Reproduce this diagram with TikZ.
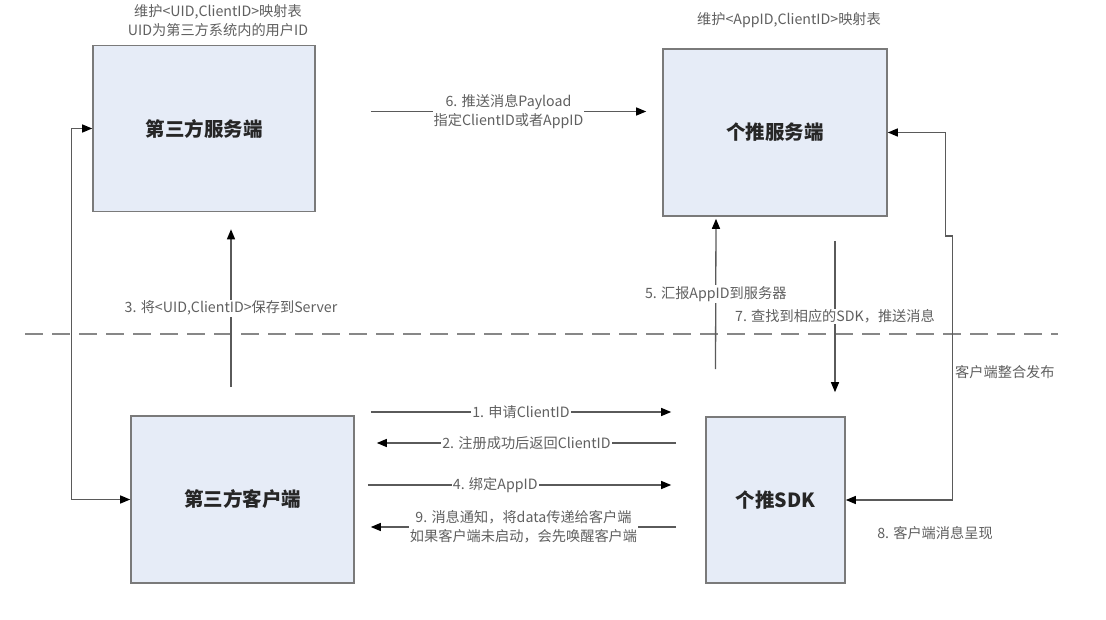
\documentclass[tikz,border=0pt]{standalone}
\usepackage{fontspec}
\setmainfont{Noto Sans CJK SC}
\usetikzlibrary{arrows.meta,calc}

\definecolor{boxfill}{HTML}{E6ECF7}
\definecolor{boxline}{HTML}{7A7A7A}
\definecolor{linegray}{HTML}{5A5A5A}
\definecolor{textgray}{HTML}{606060}

\tikzset{
  box/.style={draw=boxline,line width=1.6pt,fill=boxfill,font=\fontsize{19.5}{22}\selectfont\bfseries,text=black!85},
  arr/.style={draw=linegray,line width=1.3pt,-{Triangle[length=10pt,width=8pt,color=black]}},
  darr/.style={draw=linegray,line width=1.3pt,{Triangle[length=10pt,width=8pt,color=black]}-{Triangle[length=10pt,width=8pt,color=black]}},
  lbl/.style={font=\fontsize{14.2}{19}\selectfont,text=textgray,align=center},
  onlbl/.style={lbl,fill=white,inner sep=1pt},
}

\begin{document}
\begin{tikzpicture}[x=1pt,y=-1pt]
  \useasboundingbox[fill=white] (0,0) rectangle (1106,620);

  % boxes
  \node[box,minimum width=222,minimum height=166] (srvThird) at (204,128.5) {第三方服务端};
  \node[box,minimum width=224,minimum height=167] (srvPush) at (775,132.5) {个推服务端};
  \node[box,minimum width=223,minimum height=167] (cliThird) at (242.5,499.5) {第三方客户端};
  \node[box,minimum width=139,minimum height=166] (sdkPush) at (775.5,500) {个推SDK};

  \node[lbl] (noteThird) at (218,21) {维护<UID,ClientID>映射表\\UID为第三方系统内的用户ID};
  \node[lbl] (notePush) at (789,20) {维护<AppID,ClientID>映射表};

  % separator
  \coordinate (sepL) at (25,334);
  \coordinate (sepR) at (1058,334);
  \draw[boxline!90,line width=1.5pt,dash pattern=on 18pt off 9pt] (sepL) -- (sepR);

  % loops
  \draw[darr] (srvThird.west) -- ++(-21,0) |- (cliThird.west);
  \draw[darr] (srvPush.east) -- ++(58,0) -- ++(0,103.5) -- ++(7,0) |- (sdkPush.east);
  \node[lbl,anchor=west,inner sep=1pt] (lblPub) at (954,372) {客户端整合发布};
  \node[lbl] (lblShow) at (935,533) {8. 客户端消息呈现};

  % vertical arrows
  \draw[arr] ($(cliThird.north)+(-11.5,-28)$) -- ($(srvThird.south)+(27,17)$)
    node[onlbl,midway] (lblSave) {3. 将<UID,ClientID>保存到Server};
  \draw[arr] ($(sdkPush.north)+(-60,-47)$) -- ($(srvPush.south)+(-59,2)$)
    node[onlbl,midway] (lblReport) {5. 汇报AppID到服务器};
  \draw[arr] ($(srvPush.south)+(60,24)$) -- ($(sdkPush.north)+(59.5,-24)$)
    node[onlbl,midway] (lblFind) {7. 查找到相应的SDK，推送消息};

  % horizontal arrows
  \draw[arr] ($(srvThird.east)+(55,-17)$) -- ($(srvPush.west)+(-16,-21)$)
    node[onlbl,midway] (lblPush) {6. 推送消息Payload\\指定ClientID或者AppID};
  \draw[arr] ($(cliThird.east)+(16,-87.5)$) -- ($(sdkPush.west)+(-34,-88)$)
    node[onlbl,midway] (lblApply) {1. 申请ClientID};
  \draw[arr] ($(sdkPush.west)+(-29,-57)$) -- ($(cliThird.east)+(22,-56.5)$)
    node[onlbl,midway] (lblBack) {2. 注册成功后返回ClientID};
  \draw[arr] ($(cliThird.east)+(13,-14.5)$) -- ($(sdkPush.west)+(-34,-15)$)
    node[onlbl,pos=0.42] (lblBind) {4. 绑定AppID};
  \draw[arr] ($(sdkPush.west)+(-29,27)$) -- ($(cliThird.east)+(16,27.5)$)
    node[onlbl,midway] (lblNotify) {9. 消息通知，将data传递给客户端\\如果客户端未启动，会先唤醒客户端};
\end{tikzpicture}
\end{document}
